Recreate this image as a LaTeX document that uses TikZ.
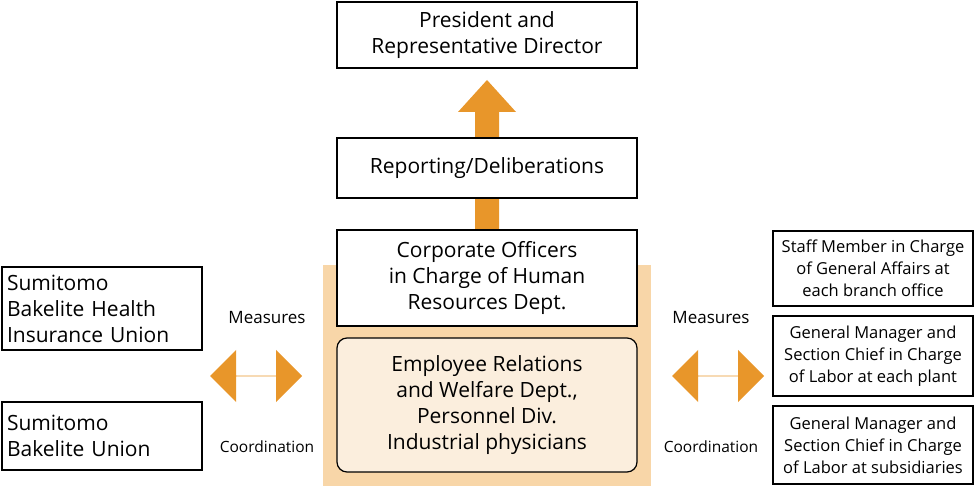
\documentclass[tikz,border=0pt]{standalone}
\usepackage{fontspec}
\setmainfont{Open Sans}
\usetikzlibrary{arrows.meta,shapes.arrows}
\definecolor{org}{HTML}{E8962A}
\definecolor{peach}{HTML}{F8D6A8}
\definecolor{cream}{HTML}{FBEEDD}
\begin{document}
\begin{tikzpicture}[x=1pt,y=-1pt,
  box/.style={draw,line width=1.2pt,fill=white,align=center,inner sep=0pt},
  big/.style={font=\fontsize{21}{26}\selectfont},
  sml/.style={font=\fontsize{16.5}{22}\selectfont},
  lbl/.style={font=\fontsize{17}{20}\selectfont}]
\useasboundingbox (0,0) rectangle (975,486);
\fill[peach] (323,265) rectangle (651,486);
% up arrow
\fill[org] (475,230) -- (475,112) -- (458,112) -- (487,80) -- (516,112) -- (499,112) -- (499,230) -- cycle;
\node[box,big,minimum width=300,minimum height=66] (pres) at (487,35) {President and\\Representative Director};
\node[box,big,minimum width=300,minimum height=60] (rep) at (487,168) {Reporting/Deliberations};
\node[box,big,minimum width=300,minimum height=96] (corp) at (487,278) {Corporate Officers\\in Charge of Human\\Resources Dept.};
\node[box,big,fill=cream,rounded corners=10pt,minimum width=300,minimum height=134] (emp) at (487,405) {Employee Relations\\and Welfare Dept.,\\Personnel Div.\\Industrial physicians};
\node[box,big,align=left,text width=190,minimum width=200,minimum height=83] (hiu) at (102,308.5) {Sumitomo\\Bakelite Health\\Insurance Union};
\node[box,big,align=left,text width=190,minimum width=200,minimum height=68] (bu) at (102,436) {Sumitomo\\Bakelite Union};
\node[box,sml,minimum width=200,minimum height=75] (r1) at (873,268.5) {Staff Member in Charge\\of General Affairs at\\each branch office};
\node[box,sml,minimum width=200,minimum height=80] (r2) at (873,356) {General Manager and\\Section Chief in Charge\\of Labor at each plant};
\node[box,sml,minimum width=200,minimum height=78] (r3) at (873,445) {General Manager and\\Section Chief in Charge\\of Labor at subsidiaries};
\node[lbl] (m1) at (267,318) {Measures};
\node[lbl,font=\fontsize{15.5}{18}\selectfont] (c1) at (267,447) {Coordination};
\node[lbl] (m2) at (711,318) {Measures};
\node[lbl,font=\fontsize{15.5}{18}\selectfont] (c2) at (711,447) {Coordination};
\node[double arrow,fill=org,minimum width=52,minimum height=92,double arrow head extend=14,inner sep=0pt,single arrow head indent=0pt] (a1) at (256,376) {};
\node[double arrow,fill=org,minimum width=52,minimum height=92,double arrow head extend=14,inner sep=0pt] (a2) at (718,376) {};
\end{tikzpicture}
\end{document}
